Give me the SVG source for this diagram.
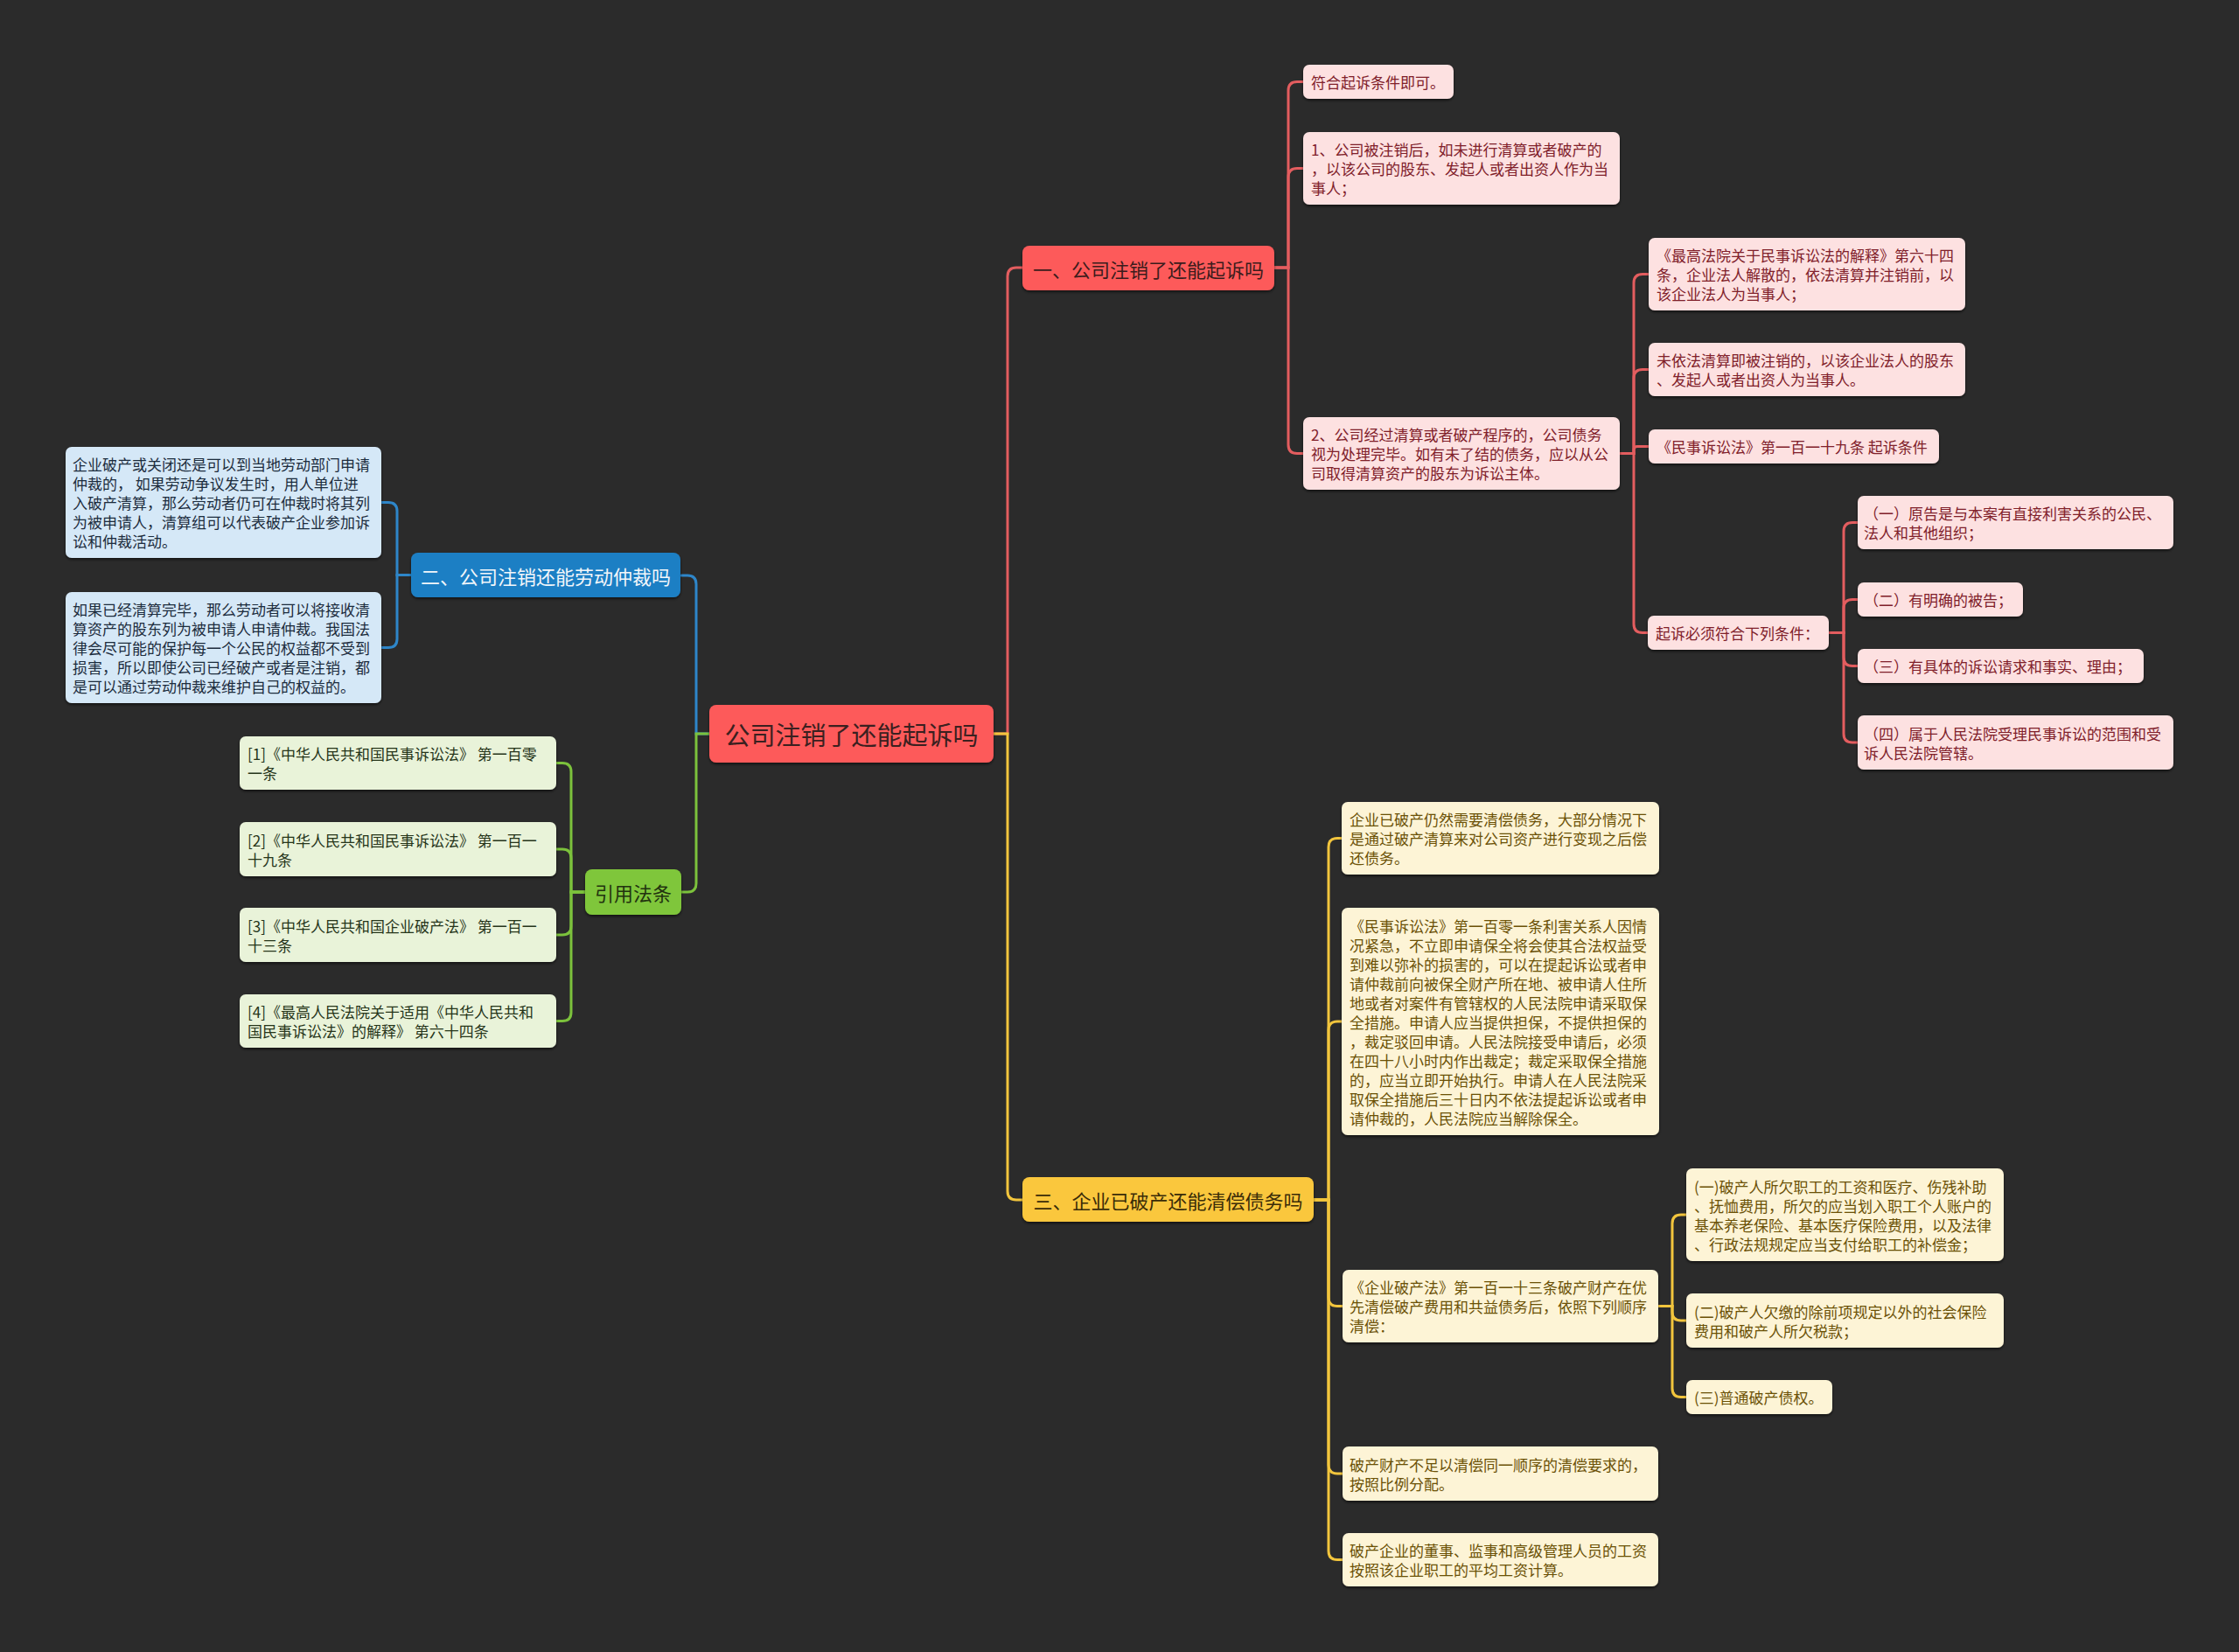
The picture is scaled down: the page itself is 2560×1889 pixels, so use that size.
<svg xmlns="http://www.w3.org/2000/svg" width="2560" height="1889" viewBox="0 0 2560 1889">
<defs>
<filter id="sh" x="-5%" y="-10%" width="110%" height="130%">
<feDropShadow dx="0" dy="2" stdDeviation="1.5" flood-color="#000" flood-opacity="0.55"/>
</filter>
</defs>
<style>
text{font-family:"Noto Sans CJK SC","Noto Sans",sans-serif;dominant-baseline:central}
.leaf{font-size:17px}
.br{font-size:22px;text-anchor:middle}
.c{fill:none;stroke-width:3;stroke-linecap:round}
.cr{stroke:#e35d5f}.cb{stroke:#2e86c9}.cg{stroke:#7cc23c}.cy{stroke:#f2c53d}
.fr{fill:#fde1e1}.tr{fill:#80202a}
.fy{fill:#fdf4d6}.ty{fill:#6b5106}
.fg{fill:#e9f3d9}.tg{fill:#26351a}
.fb{fill:#d5e8f7}.tb{fill:#1c2c3d}
rect{filter:url(#sh)}
</style>
<rect x="0" y="0" width="2560" height="1889" fill="#2b2b2b" style="filter:none"/>
<g id="connectors">
<path class="c cr" d="M1136 839 H1152 V316 Q1152 306 1162 306 H1169"/>
<path class="c cy" d="M1136 839 H1152 V1362 Q1152 1372 1162 1372 H1169"/>
<path class="c cb" d="M811 839 H796 V668 Q796 658 786 658 H779"/>
<path class="c cg" d="M811 839 H796 V1010 Q796 1020 786 1020 H779"/>
<path class="c cr" d="M1457 306 H1473 V103.5 Q1473 93.5 1483 93.5 H1490"/>
<path class="c cr" d="M1457 306 H1473 V202.5 Q1473 192.5 1483 192.5 H1490"/>
<path class="c cr" d="M1457 306 H1473 V508.5 Q1473 518.5 1483 518.5 H1490"/>
<path class="c cr" d="M1852 518.5 H1868 V323.5 Q1868 313.5 1878 313.5 H1885"/>
<path class="c cr" d="M1852 518.5 H1868 V432.5 Q1868 422.5 1878 422.5 H1885"/>
<path class="c cr" d="M1852 518.5 H1868 V514.5 Q1868 510.5 1872 510.5 H1885"/>
<path class="c cr" d="M1852 518.5 H1868 V713.5 Q1868 723.5 1878 723.5 H1885"/>
<path class="c cr" d="M2091 723.5 H2108 V607.5 Q2108 597.5 2118 597.5 H2124"/>
<path class="c cr" d="M2091 723.5 H2108 V695.5 Q2108 685.5 2118 685.5 H2124"/>
<path class="c cr" d="M2091 723.5 H2108 V751.5 Q2108 761.5 2118 761.5 H2124"/>
<path class="c cr" d="M2091 723.5 H2108 V839 Q2108 849 2118 849 H2124"/>
<path class="c cy" d="M1502 1372 H1519 V968.5 Q1519 958.5 1529 958.5 H1534"/>
<path class="c cy" d="M1502 1372 H1519 V1178 Q1519 1168 1529 1168 H1534"/>
<path class="c cy" d="M1502 1372 H1519 V1483.5 Q1519 1493.5 1529 1493.5 H1535"/>
<path class="c cy" d="M1502 1372 H1519 V1675 Q1519 1685 1529 1685 H1535"/>
<path class="c cy" d="M1502 1372 H1519 V1773.5 Q1519 1783.5 1529 1783.5 H1535"/>
<path class="c cy" d="M1896 1493.5 H1912 V1399 Q1912 1389 1922 1389 H1928"/>
<path class="c cy" d="M1896 1493.5 H1912 V1500 Q1912 1510 1922 1510 H1928"/>
<path class="c cy" d="M1896 1493.5 H1912 V1587.5 Q1912 1597.5 1922 1597.5 H1928"/>
<path class="c cb" d="M470 657.5 H454 V584.5 Q454 574.5 444 574.5 H436"/>
<path class="c cb" d="M470 657.5 H454 V730.5 Q454 740.5 444 740.5 H436"/>
<path class="c cg" d="M669 1020 H653 V882.5 Q653 872.5 643 872.5 H636"/>
<path class="c cg" d="M669 1020 H653 V981 Q653 971 643 971 H636"/>
<path class="c cg" d="M669 1020 H653 V1059 Q653 1069 643 1069 H636"/>
<path class="c cg" d="M669 1020 H653 V1157.5 Q653 1167.5 643 1167.5 H636"/>
</g>
<g id="root">
<rect x="811" y="806" width="325" height="66" rx="8" fill="#fd5a5a"/>
<text x="973.5" y="839" font-size="29" text-anchor="middle" fill="#3a2020">公司注销了还能起诉吗</text>
</g>
<g id="b1">
<rect x="1169" y="281" width="288" height="51" rx="8" fill="#fd5a5a"/>
<text class="br" x="1313" y="306.5" fill="#3b1c1c">一、公司注销了还能起诉吗</text>
</g>
<g id="b2">
<rect x="470" y="632" width="308" height="51" rx="8" fill="#1f7fc4"/>
<text class="br" x="624" y="657.5" fill="#f2f6fa">二、公司注销还能劳动仲裁吗</text>
</g>
<g id="b3">
<rect x="669" y="994" width="110" height="52" rx="8" fill="#7fc63a"/>
<text class="br" x="724" y="1020" fill="#22330f">引用法条</text>
</g>
<g id="b4">
<rect x="1169" y="1346" width="333" height="51" rx="8" fill="#fac73c"/>
<text class="br" x="1335.5" y="1371.5" fill="#3a2c08">三、企业已破产还能清偿债务吗</text>
</g>
<g id="r1">
<rect class="fr" x="1490" y="74" width="172" height="39" rx="7"/>
<text class="leaf tr" x="1499" y="93.5">符合起诉条件即可。</text>
</g>
<g id="r2">
<rect class="fr" x="1490" y="151" width="362" height="83" rx="7"/>
<text class="leaf tr" x="1499" y="170.5">1、公司被注销后，如未进行清算或者破产的</text>
<text class="leaf tr" x="1499" y="192.5">，以该公司的股东、发起人或者出资人作为当</text>
<text class="leaf tr" x="1499" y="214.5">事人；</text>
</g>
<g id="r3">
<rect class="fr" x="1490" y="477" width="362" height="83" rx="7"/>
<text class="leaf tr" x="1499" y="496.5">2、公司经过清算或者破产程序的，公司债务</text>
<text class="leaf tr" x="1499" y="518.5">视为处理完毕。如有未了结的债务，应以从公</text>
<text class="leaf tr" x="1499" y="540.5">司取得清算资产的股东为诉讼主体。</text>
</g>
<g id="rc1">
<rect class="fr" x="1885" y="272" width="362" height="83" rx="7"/>
<text class="leaf tr" x="1894" y="291.5">《最高法院关于民事诉讼法的解释》第六十四</text>
<text class="leaf tr" x="1894" y="313.5">条，企业法人解散的，依法清算并注销前，以</text>
<text class="leaf tr" x="1894" y="335.5">该企业法人为当事人；</text>
</g>
<g id="rc2">
<rect class="fr" x="1885" y="392" width="362" height="61" rx="7"/>
<text class="leaf tr" x="1894" y="411.5">未依法清算即被注销的，以该企业法人的股东</text>
<text class="leaf tr" x="1894" y="433.5">、发起人或者出资人为当事人。</text>
</g>
<g id="rc3">
<rect class="fr" x="1885" y="491" width="332" height="39" rx="7"/>
<text class="leaf tr" x="1894" y="510.5">《民事诉讼法》第一百一十九条 起诉条件</text>
</g>
<g id="rc4">
<rect class="fr" x="1884" y="704" width="207" height="39" rx="7"/>
<text class="leaf tr" x="1893" y="723.5">起诉必须符合下列条件：</text>
</g>
<g id="q1">
<rect class="fr" x="2124" y="567" width="361" height="61" rx="7"/>
<text class="leaf tr" x="2131" y="586.5" font-size="16.4">（一）原告是与本案有直接利害关系的公民、</text>
<text class="leaf tr" x="2131" y="608.5" font-size="16.4">法人和其他组织；</text>
</g>
<g id="q2">
<rect class="fr" x="2124" y="666" width="189" height="39" rx="7"/>
<text class="leaf tr" x="2131" y="685.5">（二）有明确的被告；</text>
</g>
<g id="q3">
<rect class="fr" x="2124" y="742" width="327" height="39" rx="7"/>
<text class="leaf tr" x="2131" y="761.5">（三）有具体的诉讼请求和事实、理由；</text>
</g>
<g id="q4">
<rect class="fr" x="2124" y="818" width="361" height="62" rx="7"/>
<text class="leaf tr" x="2131" y="838" font-size="16.4">（四）属于人民法院受理民事诉讼的范围和受</text>
<text class="leaf tr" x="2131" y="860" font-size="16.4">诉人民法院管辖。</text>
</g>
<g id="l1">
<rect class="fy" x="1534" y="917" width="363" height="83" rx="7"/>
<text class="leaf ty" x="1543" y="936.5">企业已破产仍然需要清偿债务，大部分情况下</text>
<text class="leaf ty" x="1543" y="958.5">是通过破产清算来对公司资产进行变现之后偿</text>
<text class="leaf ty" x="1543" y="980.5">还债务。</text>
</g>
<g id="l2">
<rect class="fy" x="1534" y="1038" width="363" height="260" rx="7"/>
<text class="leaf ty" x="1543" y="1058">《民事诉讼法》第一百零一条利害关系人因情</text>
<text class="leaf ty" x="1543" y="1080">况紧急，不立即申请保全将会使其合法权益受</text>
<text class="leaf ty" x="1543" y="1102">到难以弥补的损害的，可以在提起诉讼或者申</text>
<text class="leaf ty" x="1543" y="1124">请仲裁前向被保全财产所在地、被申请人住所</text>
<text class="leaf ty" x="1543" y="1146">地或者对案件有管辖权的人民法院申请采取保</text>
<text class="leaf ty" x="1543" y="1168">全措施。申请人应当提供担保，不提供担保的</text>
<text class="leaf ty" x="1543" y="1190">，裁定驳回申请。人民法院接受申请后，必须</text>
<text class="leaf ty" x="1543" y="1212">在四十八小时内作出裁定；裁定采取保全措施</text>
<text class="leaf ty" x="1543" y="1234">的，应当立即开始执行。申请人在人民法院采</text>
<text class="leaf ty" x="1543" y="1256">取保全措施后三十日内不依法提起诉讼或者申</text>
<text class="leaf ty" x="1543" y="1278">请仲裁的，人民法院应当解除保全。</text>
</g>
<g id="l3">
<rect class="fy" x="1535" y="1452" width="361" height="83" rx="7"/>
<text class="leaf ty" x="1543" y="1471.5">《企业破产法》第一百一十三条破产财产在优</text>
<text class="leaf ty" x="1543" y="1493.5">先清偿破产费用和共益债务后，依照下列顺序</text>
<text class="leaf ty" x="1543" y="1515.5">清偿：</text>
</g>
<g id="l4">
<rect class="fy" x="1535" y="1654" width="361" height="62" rx="7"/>
<text class="leaf ty" x="1543" y="1674">破产财产不足以清偿同一顺序的清偿要求的，</text>
<text class="leaf ty" x="1543" y="1696">按照比例分配。</text>
</g>
<g id="l5">
<rect class="fy" x="1535" y="1753" width="361" height="61" rx="7"/>
<text class="leaf ty" x="1543" y="1772.5">破产企业的董事、监事和高级管理人员的工资</text>
<text class="leaf ty" x="1543" y="1794.5">按照该企业职工的平均工资计算。</text>
</g>
<g id="c1">
<rect class="fy" x="1928" y="1336" width="363" height="106" rx="7"/>
<text class="leaf ty" x="1937" y="1356">(一)破产人所欠职工的工资和医疗、伤残补助</text>
<text class="leaf ty" x="1937" y="1378">、抚恤费用，所欠的应当划入职工个人账户的</text>
<text class="leaf ty" x="1937" y="1400">基本养老保险、基本医疗保险费用，以及法律</text>
<text class="leaf ty" x="1937" y="1422">、行政法规规定应当支付给职工的补偿金；</text>
</g>
<g id="c2">
<rect class="fy" x="1928" y="1479" width="363" height="62" rx="7"/>
<text class="leaf ty" x="1937" y="1499">(二)破产人欠缴的除前项规定以外的社会保险</text>
<text class="leaf ty" x="1937" y="1521">费用和破产人所欠税款；</text>
</g>
<g id="c3">
<rect class="fy" x="1928" y="1578" width="167" height="39" rx="7"/>
<text class="leaf ty" x="1937" y="1597.5">(三)普通破产债权。</text>
</g>
<g id="a1">
<rect class="fb" x="75" y="511" width="361" height="127" rx="7"/>
<text class="leaf tb" x="83" y="530.5">企业破产或关闭还是可以到当地劳动部门申请</text>
<text class="leaf tb" x="83" y="552.5">仲裁的， 如果劳动争议发生时，用人单位进</text>
<text class="leaf tb" x="83" y="574.5">入破产清算，那么劳动者仍可在仲裁时将其列</text>
<text class="leaf tb" x="83" y="596.5">为被申请人，清算组可以代表破产企业参加诉</text>
<text class="leaf tb" x="83" y="618.5">讼和仲裁活动。</text>
</g>
<g id="a2">
<rect class="fb" x="75" y="677" width="361" height="127" rx="7"/>
<text class="leaf tb" x="83" y="696.5">如果已经清算完毕，那么劳动者可以将接收清</text>
<text class="leaf tb" x="83" y="718.5">算资产的股东列为被申请人申请仲裁。我国法</text>
<text class="leaf tb" x="83" y="740.5">律会尽可能的保护每一个公民的权益都不受到</text>
<text class="leaf tb" x="83" y="762.5">损害，所以即使公司已经破产或者是注销，都</text>
<text class="leaf tb" x="83" y="784.5">是可以通过劳动仲裁来维护自己的权益的。</text>
</g>
<g id="g1">
<rect class="fg" x="274" y="842" width="362" height="61" rx="7"/>
<text class="leaf tg" x="283" y="861.5">[1]《中华人民共和国民事诉讼法》 第一百零</text>
<text class="leaf tg" x="283" y="883.5">一条</text>
</g>
<g id="g2">
<rect class="fg" x="274" y="940" width="362" height="62" rx="7"/>
<text class="leaf tg" x="283" y="960">[2]《中华人民共和国民事诉讼法》 第一百一</text>
<text class="leaf tg" x="283" y="982">十九条</text>
</g>
<g id="g3">
<rect class="fg" x="274" y="1038" width="362" height="62" rx="7"/>
<text class="leaf tg" x="283" y="1058">[3]《中华人民共和国企业破产法》 第一百一</text>
<text class="leaf tg" x="283" y="1080">十三条</text>
</g>
<g id="g4">
<rect class="fg" x="274" y="1137" width="362" height="61" rx="7"/>
<text class="leaf tg" x="283" y="1156.5">[4]《最高人民法院关于适用《中华人民共和</text>
<text class="leaf tg" x="283" y="1178.5">国民事诉讼法》的解释》 第六十四条</text>
</g>
</svg>
